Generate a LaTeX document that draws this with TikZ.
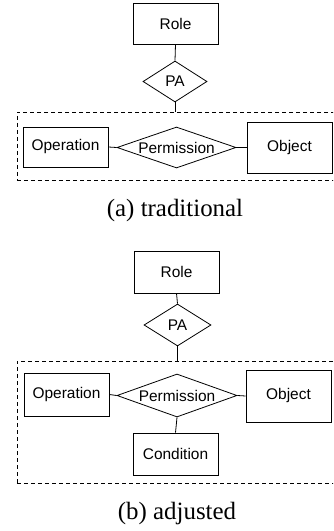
\documentclass[tikz,border=0pt]{standalone}
\usepackage{fontspec}
\setmainfont{Liberation Serif}
\setsansfont{Liberation Sans}
\usetikzlibrary{shapes.geometric}
\tikzset{
  ent/.style={draw, line width=0.8bp, inner sep=0pt, minimum width=85bp,
    font=\sffamily\fontsize{15.5}{18}\selectfont},
  rel/.style={draw, diamond, line width=0.8bp, inner sep=0pt,
    font=\sffamily\fontsize{15.5}{18}\selectfont},
  grp/.style={draw, dashed, dash pattern=on 4bp off 3bp, line width=0.8bp, inner sep=0pt},
  conn/.style={line width=0.8bp},
  captext/.style={font=\fontsize{25}{28}\selectfont, inner sep=0pt}
}
\begin{document}
\begin{tikzpicture}[x=1bp,y=-1bp]
\useasboundingbox (0,0) rectangle (333,531);
\clip (0,0) rectangle (333,531);
% ---------- (a) ----------
\node[grp, minimum width=328bp, minimum height=68bp] (ga) at (181,146) {};
\node[ent, minimum height=41bp] (rolea) at (175.5,23.5) {Role};
\node[rel, minimum width=64bp, minimum height=41bp, aspect=1.56] (paa) at (175,81.5) {PA};
\node[ent, minimum height=40bp] (opa) at (65.5,147) {Operation};
\node[rel, minimum width=119bp, minimum height=41bp, aspect=2.9] (pea) at (176.5,147.5) {Permission};
\node[ent, minimum height=51bp] (oba) at (289.5,147.5) {Object};
\draw[conn] (rolea.south) -- (paa.north);
\draw[conn] (paa.south) -- (paa.south |- ga.north);
\draw[conn] (opa.east) -- (pea.west);
\draw[conn] (pea.east) -- (oba.west);
\node[captext] (capa) at (175,211) {(a) traditional};
% ---------- (b) ----------
\node[grp, minimum width=328bp, minimum height=122bp] (gb) at (181,422) {};
\node[ent, minimum height=42bp] (roleb) at (176.5,272) {Role};
\node[rel, minimum width=67bp, minimum height=42bp, aspect=1.6] (pab) at (177.5,325) {PA};
\node[ent, minimum height=43bp] (opb) at (66.5,394.5) {Operation};
\node[rel, minimum width=120bp, minimum height=43bp, aspect=2.8] (peb) at (177,395.5) {Permission};
\node[ent, minimum height=52bp] (obb) at (288.5,396) {Object};
\node[ent, minimum height=42bp] (cob) at (175.5,454) {Condition};
\draw[conn] (roleb.south) -- (pab.north);
\draw[conn] (pab.south) -- (pab.south |- gb.north);
\draw[conn] (opb.east) -- (peb.west);
\draw[conn] (peb.east) -- (obb.west);
\draw[conn] (peb.south) -- (cob.north);
\node[captext] (capb) at (177,514) {(b) adjusted};
\end{tikzpicture}
\end{document}
